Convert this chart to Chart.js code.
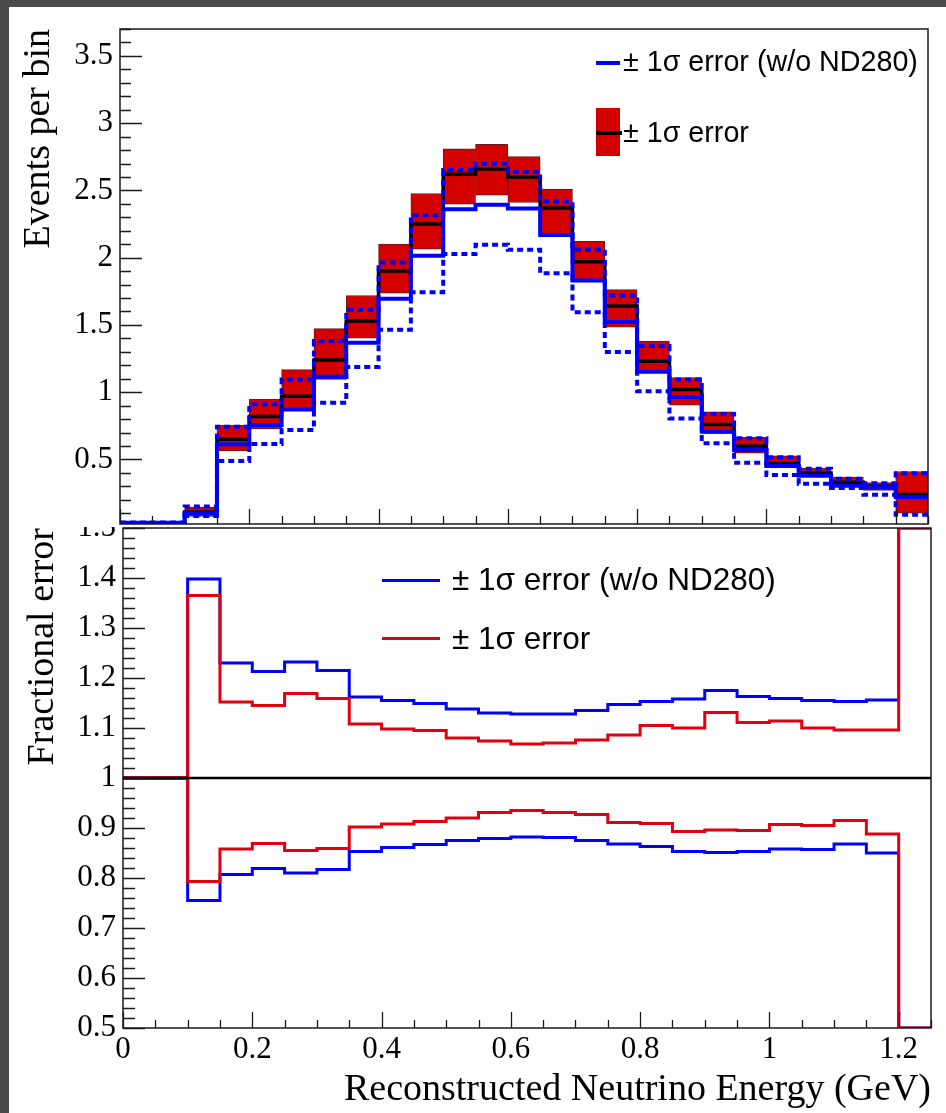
<!DOCTYPE html>
<html>
<head>
<meta charset="utf-8">
<script src="https://cdn.jsdelivr.net/npm/chart.js@4/dist/chart.umd.min.js"></script>
<style>
  html, body { margin: 0; padding: 0; width: 946px; height: 1113px; overflow: hidden; background: #4b4b4b; }
  #sheet { position: absolute; left: 9px; top: 7px; width: 937px; height: 1106px; background: #fff; }
  .layer { position: absolute; left: 0; top: 0; }
  .leg { position: absolute; font-family: 'Liberation Sans', Arial, sans-serif; white-space: nowrap; color: #000; z-index: 5; }
  .sw { position: absolute; z-index: 5; }
</style>
</head>
<body>
<div id="sheet"></div>
<canvas id="cBottom" class="layer" width="946" height="1113"></canvas>
<canvas id="cTop" class="layer" width="946" height="560"></canvas>

<!-- top legend -->
<div class="sw" style="left:596px;top:61px;width:24px;height:4px;background:#0000ff;"></div>
<div class="leg" style="left:623px;top:45px;font-size:28.7px;line-height:32px;">± 1σ error (w/o ND280)</div>
<div class="sw" style="left:596px;top:108px;width:24px;height:48px;background:#d40000;"></div>
<div class="sw" style="left:596px;top:131px;width:26px;height:4px;background:#000;"></div>
<div class="leg" style="left:623px;top:116px;font-size:28.7px;line-height:32px;">± 1σ error</div>

<!-- bottom legend -->
<div class="sw" style="left:382px;top:578.5px;width:58px;height:3px;background:#0000ff;"></div>
<div class="leg" style="left:452px;top:562px;font-size:31.5px;line-height:35px;">± 1σ error (w/o ND280)</div>
<div class="sw" style="left:382px;top:636.5px;width:58px;height:3px;background:#e00010;"></div>
<div class="leg" style="left:452px;top:621px;font-size:31.5px;line-height:35px;">± 1σ error</div>

<script>
// ---------------- DATA ----------------
const binEdges = [0, 0.05, 0.10, 0.15, 0.20, 0.25, 0.30, 0.35, 0.40, 0.45, 0.50, 0.55, 0.60,
                  0.65, 0.70, 0.75, 0.80, 0.85, 0.90, 0.95, 1.00, 1.05, 1.10, 1.15, 1.20, 1.25];

// upper panel: events per bin
const nominal   = [0.03, 0.03, 0.11, 0.65, 0.82, 0.97, 1.24, 1.53, 1.90, 2.25, 2.62, 2.66, 2.60,
                   2.37, 1.97, 1.64, 1.23, 1.02, 0.76, 0.60, 0.47, 0.40, 0.33, 0.30, 0.24];
const errHigh   = [null, null, 0.146, 0.756, 0.948, 1.168, 1.472, 1.719, 2.101, 2.477, 2.810, 2.842, 2.751,
                   2.509, 2.121, 1.763, 1.380, 1.109, 0.854, 0.664, 0.526, 0.435, 0.368, 0.328, 0.410];
const errLow    = [null, null, 0.076, 0.563, 0.726, 0.879, 1.094, 1.402, 1.736, 2.064, 2.398, 2.464, 2.410,
                   2.175, 1.830, 1.484, 1.151, 0.904, 0.694, 0.546, 0.447, 0.373, 0.299, 0.269, 0.101];
const noNDCentral = [0.03, 0.03, 0.10, 0.612, 0.756, 0.872, 1.114, 1.368, 1.694, 2.015, 2.360, 2.393, 2.365,
                   2.168, 1.830, 1.521, 1.151, 0.965, 0.706, 0.570, 0.452, 0.378, 0.304, 0.291, 0.220];
const noNDHigh  = [0.03, 0.03, 0.15, 0.743, 0.911, 1.094, 1.380, 1.612, 1.965, 2.316, 2.652, 2.699, 2.637,
                   2.417, 2.059, 1.719, 1.343, 1.094, 0.837, 0.657, 0.516, 0.430, 0.356, 0.323, 0.398];
const noNDLow   = [0.03, 0.03, 0.08, 0.489, 0.615, 0.719, 0.921, 1.188, 1.464, 1.743, 2.027, 2.096, 2.059,
                   1.884, 1.595, 1.299, 1.007, 0.805, 0.620, 0.476, 0.385, 0.319, 0.287, 0.237, 0.089];

// lower panel: fractional error
const fracNoNDUp  = [1, 1, 1.398, 1.230, 1.213, 1.232, 1.215, 1.162, 1.155, 1.149, 1.138, 1.130, 1.128,
                     1.128, 1.135, 1.147, 1.153, 1.158, 1.175, 1.163, 1.159, 1.155, 1.153, 1.156, 1.5];
const fracUp      = [1, 1, 1.365, 1.152, 1.145, 1.169, 1.159, 1.108, 1.098, 1.095, 1.080, 1.074, 1.068,
                     1.070, 1.076, 1.086, 1.105, 1.100, 1.131, 1.111, 1.114, 1.100, 1.096, 1.096, 1.5];
const fracLow     = [1, 1, 0.793, 0.858, 0.869, 0.855, 0.859, 0.902, 0.908, 0.913, 0.920, 0.931, 0.935,
                     0.931, 0.927, 0.911, 0.909, 0.893, 0.896, 0.895, 0.907, 0.905, 0.915, 0.888, 0.5];
const fracNoNDLow = [1, 1, 0.755, 0.807, 0.819, 0.810, 0.817, 0.853, 0.861, 0.867, 0.875, 0.879, 0.882,
                     0.881, 0.875, 0.868, 0.863, 0.853, 0.851, 0.853, 0.858, 0.857, 0.868, 0.850, 0.5];
const unity = 1;

// tick labels
const xTickLabels    = [0, 0.2, 0.4, 0.6, 0.8, 1, 1.2];
const topYTickLabels = [0.5, 1, 1.5, 2, 2.5, 3, 3.5];
const botYTickLabels = [0.5, 0.6, 0.7, 0.8, 0.9, 1, 1.1, 1.2, 1.3, 1.4, 1.5];

// ---------------- HELPERS ----------------
function stepPoints(values) {
  const pts = [];
  values.forEach((v, i) => {
    if (v === null) { pts.push({ x: binEdges[i], y: null }); return; }
    pts.push({ x: binEdges[i], y: v }, { x: binEdges[i + 1], y: v });
  });
  return pts;
}
function floatBars(lo, hi) {
  const out = [];
  lo.forEach((v, i) => {
    if (v === null || hi[i] === null) return;
    out.push({ x: (binEdges[i] + binEdges[i + 1]) / 2, y: [v, hi[i]] });
  });
  return out;
}
function range(a, b, s) {
  const r = [];
  const n = Math.round((b - a) / s);
  for (let i = 0; i <= n; i++) r.push(+(a + i * s).toFixed(4));
  return r;
}
const fmt = v => String(Math.round(v * 100) / 100);
const serif = 'Liberation Serif, Times New Roman, serif';

const lineDS = (data, color, width, order, dash) => ({
  type: 'line', data: stepPoints(data), borderColor: color, borderWidth: width,
  borderDash: dash || [], pointRadius: 0, fill: false, tension: 0, spanGaps: false,
  borderJoinStyle: 'miter', borderCapStyle: 'butt', order
});

// ticks & frame plugin (uses the chart's own scales)
const axisDecor = {
  id: 'axisDecor',
  beforeDraw(chart, args, o) {
    if (!o.whiteFill) return;
    const ctx = chart.ctx;
    ctx.save();
    ctx.fillStyle = '#fff';
    ctx.fillRect(o.whiteFill[0], o.whiteFill[1], o.whiteFill[2], o.whiteFill[3]);
    ctx.restore();
  },
  afterDatasetsDraw(chart, args, o) {
    const { ctx, chartArea: a, scales: { x, y } } = chart;
    ctx.save();
    ctx.strokeStyle = '#1a1a1a';
    ctx.lineWidth = 1.3;
    ctx.beginPath();
    const xs = range(x.min, x.max, o.xMinorStep);
    xs.forEach(v => {
      const major = Math.abs(v / o.xMajorStep - Math.round(v / o.xMajorStep)) < 1e-6;
      const px = Math.round(x.getPixelForValue(v)) + 0.5;
      ctx.moveTo(px, a.bottom);
      ctx.lineTo(px, a.bottom - (major ? o.xMajorLen : o.xMinorLen));
    });
    const ys = range(o.yMinorStart, y.max, o.yMinorStep);
    ys.forEach(v => {
      if (v < y.min - 1e-9 || v > y.max + 1e-9) return;
      const major = Math.abs(v / o.yMajorStep - Math.round(v / o.yMajorStep)) < 1e-6;
      const py = Math.round(y.getPixelForValue(v)) + 0.5;
      ctx.moveTo(a.left, py);
      ctx.lineTo(a.left + (major ? o.yMajorLen : o.yMinorLen), py);
    });
    ctx.stroke();
    ctx.lineWidth = 1.5;
    ctx.strokeRect(a.left, a.top, a.right - a.left, a.bottom - a.top);
    ctx.restore();
  }
};

// ---------------- TOP CHART ----------------
new Chart(document.getElementById('cTop'), {
  type: 'line',
  data: {
    datasets: [
      lineDS(noNDHigh, '#0000ff', 4, 0, [6, 4]),
      lineDS(noNDLow, '#0000ff', 4, 0, [6, 4]),
      lineDS(noNDCentral, '#0000ff', 4, 1),
      lineDS(nominal, '#000000', 3.5, 2),
      {
        type: 'bar', data: floatBars(errLow, errHigh), backgroundColor: '#d40000',
        borderColor: '#6a1a1a', borderWidth: 1, borderSkipped: false,
        barPercentage: 1, categoryPercentage: 1, grouped: false, order: 3
      }
    ]
  },
  options: {
    responsive: false, animation: false, events: [],
    layout: { padding: { left: 0, top: 29, right: 18, bottom: 36 } },
    plugins: {
      legend: { display: false }, tooltip: { enabled: false },
      axisDecor: {
        whiteFill: [9, 7, 937, 520],
        xMinorStep: 0.05, xMajorStep: 0.2, xMajorLen: 15, xMinorLen: 8,
        yMinorStart: 0.1, yMinorStep: 0.1, yMajorStep: 0.5, yMajorLen: 22, yMinorLen: 11
      }
    },
    scales: {
      x: {
        type: 'linear', min: 0, max: 1.25, offset: false, display: false,
        afterBuildTicks: s => { s.ticks = xTickLabels.map(v => ({ value: v })); }
      },
      y: {
        type: 'linear', min: 0.02, max: 3.7,
        grid: { display: false, drawTicks: false }, border: { display: false },
        ticks: { font: { family: serif, size: 31 }, color: '#000', padding: 7, autoSkip: false, callback: fmt },
        afterBuildTicks: s => { s.ticks = topYTickLabels.map(v => ({ value: v })); },
        afterFit: s => { s.width = 120; s.paddingTop = 0; s.paddingBottom = 0; },
        title: { display: true, text: 'Events per bin', align: 'end', color: '#000',
                 font: { family: serif, size: 38 }, padding: { top: 16, bottom: 0 } }
      }
    }
  },
  plugins: [axisDecor]
});

// ---------------- BOTTOM CHART ----------------
new Chart(document.getElementById('cBottom'), {
  type: 'line',
  data: {
    datasets: [
      { type: 'line', data: [{ x: 0, y: unity }, { x: 1.25, y: unity }], borderColor: '#000',
        borderWidth: 2.5, pointRadius: 0, fill: false, order: 0 },
      lineDS(fracUp, '#e00010', 3, 1),
      lineDS(fracLow, '#e00010', 3, 1),
      lineDS(fracNoNDUp, '#0000ff', 3, 2),
      lineDS(fracNoNDLow, '#0000ff', 3, 2)
    ]
  },
  options: {
    responsive: false, animation: false, events: [],
    layout: { padding: { left: 0, top: 528, right: 15, bottom: 0 } },
    plugins: {
      legend: { display: false }, tooltip: { enabled: false },
      axisDecor: {
        xMinorStep: 0.05, xMajorStep: 0.2, xMajorLen: 16, xMinorLen: 8,
        yMinorStart: 0.5, yMinorStep: 0.02, yMajorStep: 0.1, yMajorLen: 22, yMinorLen: 12
      }
    },
    scales: {
      x: {
        type: 'linear', min: 0, max: 1.25, offset: false, position: 'bottom',
        grid: { display: false, drawTicks: false }, border: { display: false },
        ticks: { font: { family: serif, size: 31 }, color: '#000', padding: 3, autoSkip: false,
                 maxRotation: 0, callback: fmt },
        afterBuildTicks: s => { s.ticks = xTickLabels.map(v => ({ value: v })); },
        afterFit: s => { s.height = 85; s.paddingLeft = 0; s.paddingRight = 0; },
        title: { display: true, text: 'Reconstructed Neutrino Energy (GeV)', align: 'end', color: '#000',
                 font: { family: serif, size: 38 }, padding: { top: 0, bottom: 0 } }
      },
      y: {
        type: 'linear', min: 0.5, max: 1.5,
        grid: { display: false, drawTicks: false }, border: { display: false },
        ticks: { font: { family: serif, size: 31 }, color: '#000', padding: 7, autoSkip: false, callback: fmt },
        afterBuildTicks: s => { s.ticks = botYTickLabels.map(v => ({ value: v })); },
        afterFit: s => { s.width = 123; s.paddingTop = 0; s.paddingBottom = 0; },
        title: { display: true, text: 'Fractional error', align: 'end', color: '#000',
                 font: { family: serif, size: 38 }, padding: { top: 20, bottom: 0 } }
      }
    }
  },
  plugins: [axisDecor]
});
</script>
</body>
</html>
